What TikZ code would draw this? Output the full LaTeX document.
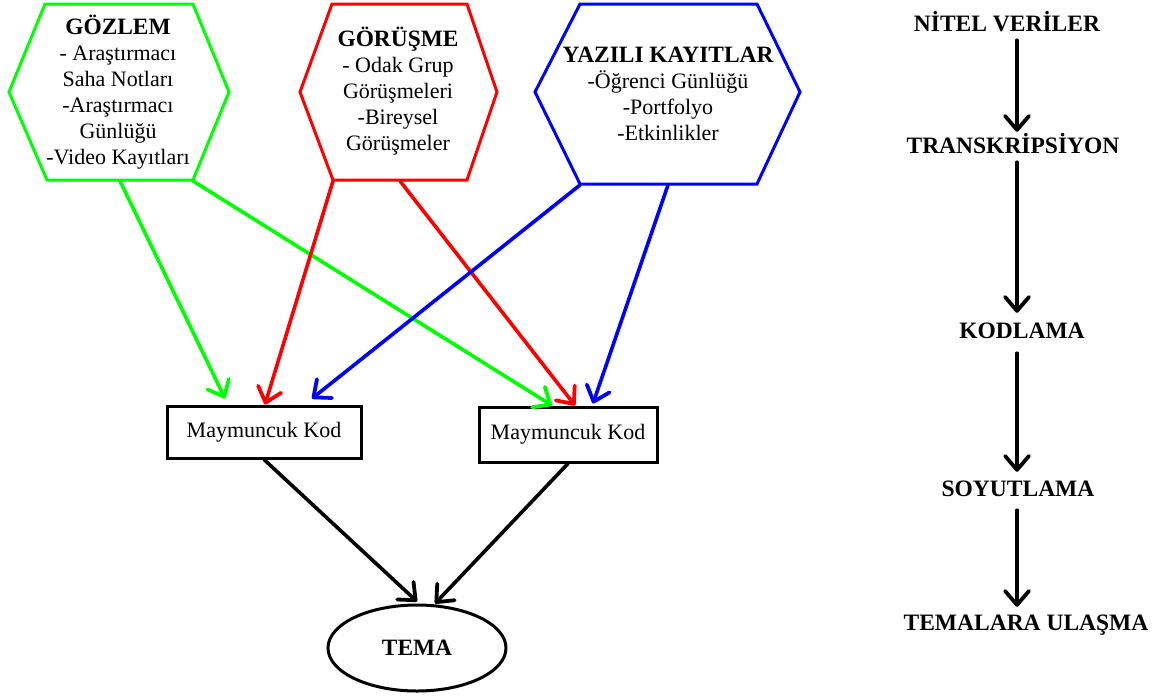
\documentclass[tikz,border=0pt]{standalone}
\usepackage{fontspec}
\setmainfont{Liberation Serif}
\usetikzlibrary{arrows.meta,shapes.geometric}
\definecolor{hgreen}{RGB}{0,255,0}
\definecolor{hred}{RGB}{255,0,0}
\definecolor{hblue}{RGB}{0,0,255}
\newcommand{\bigbf}[1]{{\fontsize{23.4}{26}\selectfont\bfseries #1}}
\begin{document}
\begin{tikzpicture}[x=1pt,y=-1pt,
  every node/.style={font=\fontsize{22}{26}\selectfont},
  hexline/.style={line width=3pt, line join=miter},
  txt/.style={align=center, inner sep=0pt},
  conn/.style={line width=3.6pt, line cap=round, -{Straight Barb[length=14pt,width=24pt,line width=3.8pt,round]}},
  boxnode/.style={draw, line width=3pt, inner sep=0pt, minimum height=52pt},
  stage/.style={font=\fontsize{23.5}{26}\selectfont\bfseries, inner sep=0pt, text height=16pt, text depth=0pt}
]
\useasboundingbox (0,0) rectangle (1156,697);

% hexagons
\draw[hexline, hgreen] (45,4)--(193,4)--(229,92)--(193,180)--(47,180)--(9,92)--cycle;
\draw[hexline, hred] (332,4)--(467,4)--(497,92)--(467,180)--(333,180)--(300,92)--cycle;
\draw[hexline, hblue] (580,4)--(757,4)--(800,92)--(757,184)--(580,184)--(535,92)--cycle;

\node[txt] (gozlem) at (118,92) {\bigbf{GÖZLEM}\\- Araştırmacı\\Saha Notları\\-Araştırmacı\\Günlüğü\\-Video Kayıtları};
\node[txt] (gorusme) at (398,91) {\bigbf{GÖRÜŞME}\\- Odak Grup\\Görüşmeleri\\-Bireysel\\Görüşmeler};
\node[txt] (yazili) at (668,94) {\bigbf{YAZILI KAYITLAR}\\-Öğrenci Günlüğü\\-Portfolyo\\-Etkinlikler};

\coordinate (g1) at (120,181);
\coordinate (g2) at (193,181);
\coordinate (r1) at (333,181);
\coordinate (r2) at (400,181);
\coordinate (b1) at (580,185);
\coordinate (b2) at (668,185);

% boxes
\node[boxnode, minimum width=194pt] (box1) at (264,432) {Maymuncuk Kod};
\node[boxnode, minimum width=178pt, minimum height=55pt] (box2) at (568,434.5) {Maymuncuk Kod};

% ellipse
\node[draw, ellipse, line width=3pt, minimum width=178pt, minimum height=86pt, inner sep=0pt, font=\fontsize{23.4}{26}\selectfont\bfseries] (tema) at (417,648) {TEMA};

% coloured connectors
\draw[conn, hgreen] (g1) -- ([xshift=-39pt,yshift=6pt]box1.north);
\draw[conn, hgreen] (g2) -- ([xshift=-16pt]box2.north);
\draw[conn, hred] (r1) -- ([xshift=1pt]box1.north);
\draw[conn, hred] (r2) -- ([xshift=7pt]box2.north);
\draw[conn, hblue] (b1) -- ([xshift=48pt,yshift=6pt]box1.north);
\draw[conn, hblue] (b2) -- ([xshift=25pt,yshift=2pt]box2.north);

% black connectors
\draw[conn, black] (box1.south) -- ([yshift=2pt]tema.north);
\draw[conn, black] (box2.south) -- ([xshift=18pt]tema.north);

% right column
\node[stage] (nitel) at (1007,23) {NİTEL VERİLER};
\node[stage] (trans) at (1013,145) {TRANSKRİPSİYON};
\node[stage] (kod) at (1022,330) {KODLAMA};
\node[stage] (soy) at (1018,488) {SOYUTLAMA};
\node[stage] (ulas) at (1026,622) {TEMALARA ULAŞMA};
\coordinate (ax) at (1017,0);

\draw[conn, black] ([yshift=-9pt]nitel.south -| ax) -- ([yshift=5pt]trans.north -| ax);
\draw[conn, black] ([yshift=-9pt]trans.south -| ax) -- ([yshift=9pt]kod.north -| ax);
\draw[conn, black] ([yshift=-15pt]kod.south -| ax) -- ([yshift=8pt]soy.north -| ax);
\draw[conn, black] ([yshift=-14pt]soy.south -| ax) -- ([yshift=7pt]ulas.north -| ax);
\end{tikzpicture}
\end{document}
